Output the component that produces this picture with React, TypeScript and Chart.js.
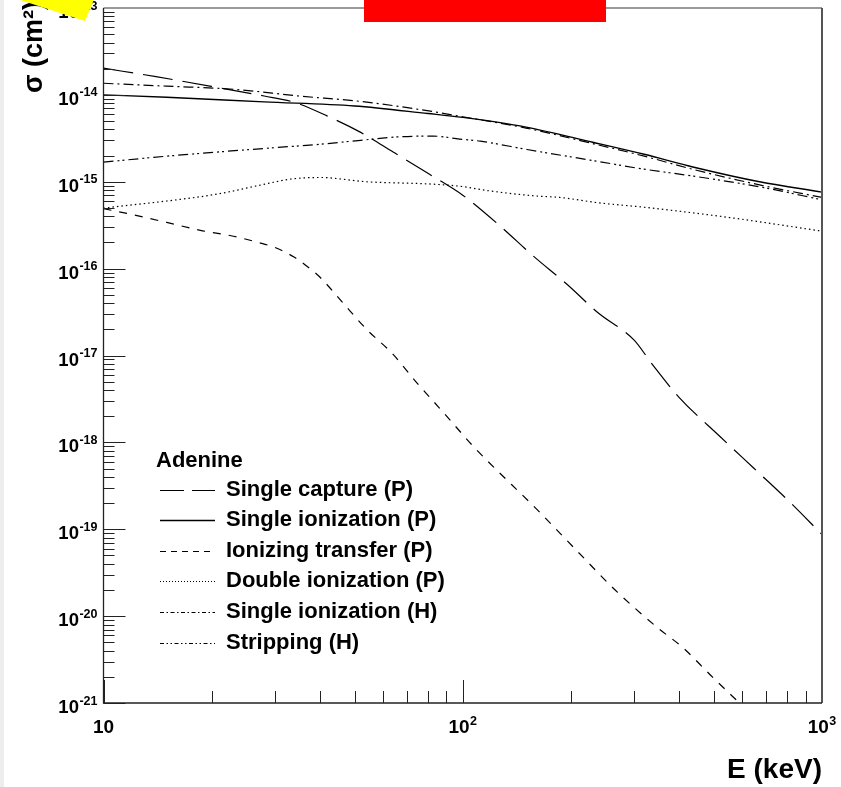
import React, { useEffect, useRef } from "react";
import { Chart, registerables } from "chart.js";

Chart.register(...registerables);

// ---------------- data ----------------
const energyCapture = [10, 14, 20, 28, 34, 42, 52, 64, 80, 100, 127, 157, 195, 238, 300, 337, 400, 520, 644, 800, 1000];
const sigmaCapture = [2.03e-14, 1.62e-14, 1.25e-14, 9.7e-15, 8.2e-15, 5.7e-15, 3.7e-15, 2.2e-15, 1.25e-15, 7.0e-16, 3.1e-16, 1.4e-16, 6.6e-17, 3.1e-17, 1.5e-17, 7.9e-18, 3.3e-18, 1.17e-18, 5.1e-19, 2.2e-19, 8.7e-20];

const energyIonP = [10, 15, 28, 50, 80, 100, 150, 230, 320, 440, 670, 1000];
const sigmaIonP = [1.0e-14, 9.4e-15, 8.3e-15, 7.45e-15, 6.1e-15, 5.5e-15, 4.25e-15, 2.85e-15, 2.07e-15, 1.47e-15, 1.0e-15, 7.6e-16];

const energyTransfer = [10, 12, 15, 18.6, 23, 27, 30, 34, 37, 40, 46, 54, 64, 74, 86, 100, 107, 164, 210, 269, 348, 411, 489, 600];
const sigmaTransfer = [4.9e-16, 4.2e-16, 3.4e-16, 2.76e-16, 2.36e-16, 2.0e-16, 1.75e-16, 1.35e-16, 1.05e-16, 8.0e-17, 4.2e-17, 2.0e-17, 1.03e-17, 5.0e-18, 2.5e-18, 1.23e-18, 9.0e-19, 1.56e-19, 5.4e-20, 1.9e-20, 7.4e-21, 4.3e-21, 2.1e-21, 9.3e-22];

const energyDouble = [10, 11, 15, 20.7, 28.5, 33, 40, 54, 82, 100, 115, 157, 186, 241, 318, 546, 1000];
const sigmaDouble = [4.95e-16, 5.2e-16, 6.0e-16, 7.2e-16, 9.5e-16, 1.07e-15, 1.12e-15, 1.0e-15, 9.4e-16, 8.8e-16, 8.0e-16, 6.9e-16, 6.6e-16, 5.7e-16, 5.1e-16, 3.9e-16, 2.7e-16];

const energyIonH = [10, 15, 23, 35, 52, 83, 100, 150, 230, 320, 440, 670, 1000];
const sigmaIonH = [1.36e-14, 1.26e-14, 1.16e-14, 9.7e-15, 8.4e-15, 6.4e-15, 5.6e-15, 4.15e-15, 2.75e-15, 1.97e-15, 1.38e-15, 9.2e-16, 6.6e-16];

const energyStrip = [10, 15, 28.5, 40, 52, 67, 83, 98, 112, 151, 231, 318, 439, 674, 1000];
const sigmaStrip = [1.68e-15, 1.97e-15, 2.43e-15, 2.7e-15, 3.0e-15, 3.3e-15, 3.35e-15, 3.1e-15, 2.93e-15, 2.35e-15, 1.75e-15, 1.4e-15, 1.16e-15, 8.7e-16, 6.2e-16];

const seriesLabels = [
  "Single capture (P)",
  "Single ionization (P)",
  "Ionizing transfer (P)",
  "Double ionization (P)",
  "Single ionization (H)",
  "Stripping (H)",
];
const legendTitle = "Adenine";

// tick labels: base "10" with the exponent as superscript ("" = no exponent)
const xTickValues = [10, 100, 1000];
const xTickExponents = ["", "2", "3"];
const yTickExponents = [-21, -20, -19, -18, -17, -16, -15, -14, -13];

const xTitle = "E (keV)";
const yTitle = "σ (cm²)";

// ---------------- styles ----------------
const FONT = "'Liberation Sans', 'DejaVu Sans', Arial, sans-serif";
const curveDashes: number[][] = [[30, 10], [], [8, 8], [1.5, 3], [10, 4, 2, 4], [10, 4, 2, 3, 2, 4]];
const legendDashes: number[][] = [[24, 8], [], [6, 5], [1, 2], [4, 2.5, 1.5, 2.5], [4, 2.5, 1.5, 2.5, 1.5, 2.5]];
const curveWidths = [1.2, 1.4, 1.2, 1.2, 1.2, 1.2];

const toPoints = (xs: number[], ys: number[]) => xs.map((x, i) => ({ x, y: ys[i] }));

function drawPower(ctx: any, exp: string, anchorX: number, baseY: number, align: "right" | "center", baseSize: number) {
  ctx.font = `bold ${baseSize}px ${FONT}`;
  const wb = ctx.measureText("10").width;
  ctx.font = `bold 12.5px ${FONT}`;
  const we = exp ? ctx.measureText(exp).width + 0.5 : 0;
  const total = wb + we;
  const left = align === "right" ? anchorX - total : anchorX - total / 2;
  ctx.textAlign = "left";
  ctx.textBaseline = "alphabetic";
  ctx.font = `bold ${baseSize}px ${FONT}`;
  ctx.fillText("10", left, baseY);
  if (exp) {
    ctx.font = `bold 12.5px ${FONT}`;
    ctx.fillText(exp, left + wb + 0.5, baseY - 8.5);
  }
}

const frameAndTicks = {
  id: "frameAndTicks",
  afterDatasetsDraw(chart: any) {
    const { ctx, chartArea: a, scales } = chart;
    const xs = scales.x;
    const ys = scales.y;
    ctx.save();
    ctx.setLineDash([]);
    ctx.strokeStyle = "#222";
    ctx.lineWidth = 1;
    // y ticks (inside, from left axis)
    for (let e = yTickExponents[0]; e < yTickExponents[yTickExponents.length - 1]; e++) {
      for (let m = 1; m <= 9; m++) {
        const v = m * Math.pow(10, e);
        const py = Math.round(ys.getPixelForValue(v)) + 0.5;
        const len = m === 1 ? 22 : 11;
        ctx.beginPath();
        ctx.moveTo(a.left, py);
        ctx.lineTo(a.left + len, py);
        ctx.stroke();
      }
    }
    // x ticks (inside, from bottom axis)
    for (let d = 1; d < 3; d++) {
      for (let m = 1; m <= 9; m++) {
        const v = m * Math.pow(10, d);
        const px = Math.round(xs.getPixelForValue(v)) + 0.5;
        const len = m === 1 ? 23 : 12;
        ctx.beginPath();
        ctx.moveTo(px, a.bottom);
        ctx.lineTo(px, a.bottom - len);
        ctx.stroke();
      }
    }
    // frame
    ctx.strokeStyle = "#777";
    ctx.lineWidth = 1.5;
    ctx.beginPath();
    ctx.moveTo(a.left, a.top);
    ctx.lineTo(a.right, a.top);
    ctx.stroke();
    ctx.strokeStyle = "#555";
    ctx.lineWidth = 2;
    ctx.beginPath();
    ctx.moveTo(a.right, a.top);
    ctx.lineTo(a.right, a.bottom);
    ctx.stroke();
    ctx.strokeStyle = "#222";
    ctx.lineWidth = 1.3;
    ctx.beginPath();
    ctx.moveTo(a.left, a.top);
    ctx.lineTo(a.left, a.bottom);
    ctx.lineTo(a.right, a.bottom);
    ctx.stroke();

    // tick labels
    ctx.fillStyle = "#000";
    yTickExponents.forEach((e) => {
      const py = ys.getPixelForValue(Math.pow(10, e));
      drawPower(ctx, String(e), a.left - 6, py + 10, "right", 18.5);
    });
    xTickValues.forEach((v, i) => {
      const px = xs.getPixelForValue(v);
      drawPower(ctx, xTickExponents[i], px, a.bottom + 30, "center", 19);
    });

    // legend
    ctx.fillStyle = "#000";
    ctx.textBaseline = "middle";
    ctx.textAlign = "left";
    ctx.font = `bold 22px ${FONT}`;
    ctx.fillText(legendTitle, 156, 461);
    const rowY = [490, 520, 551, 581, 612, 643];
    seriesLabels.forEach((lab, i) => {
      const yy = rowY[i] + 0.5;
      ctx.save();
      ctx.strokeStyle = "#000";
      ctx.lineWidth = i === 1 ? 1.4 : 1.1;
      ctx.setLineDash(legendDashes[i]);
      ctx.beginPath();
      ctx.moveTo(160, yy);
      ctx.lineTo(215, yy);
      ctx.stroke();
      ctx.restore();
      ctx.fillText(lab, 226, rowY[i]);
    });

    // y title (rotated)
    ctx.save();
    ctx.font = `bold 27px ${FONT}`;
    ctx.translate(42, 93);
    ctx.rotate(-Math.PI / 2);
    ctx.textAlign = "left";
    ctx.textBaseline = "alphabetic";
    ctx.fillText(yTitle, 0, 0);
    ctx.restore();
    ctx.restore();
  },
};

export default function App() {
  const ref = useRef<HTMLCanvasElement>(null);
  useEffect(() => {
    if (!ref.current) return;
    const pairs: [number[], number[]][] = [
      [energyCapture, sigmaCapture],
      [energyIonP, sigmaIonP],
      [energyTransfer, sigmaTransfer],
      [energyDouble, sigmaDouble],
      [energyIonH, sigmaIonH],
      [energyStrip, sigmaStrip],
    ];
    const chart = new Chart(ref.current, {
      type: "line",
      data: {
        datasets: pairs.map(([xs, ys], i) => ({
          label: seriesLabels[i],
          data: toPoints(xs, ys),
          borderColor: "#000",
          backgroundColor: "#000",
          borderWidth: curveWidths[i],
          borderDash: curveDashes[i],
          pointRadius: 0,
          fill: false,
          cubicInterpolationMode: "monotone",
        })),
      },
      options: {
        animation: false,
        responsive: false,
        devicePixelRatio: 1,
        layout: { padding: { left: 0, top: 8, right: 19, bottom: 0 } },
        plugins: { legend: { display: false }, tooltip: { enabled: false } },
        scales: {
          x: {
            type: "logarithmic",
            min: 10,
            max: 1000,
            grid: { display: false, drawTicks: false },
            border: { display: false },
            afterBuildTicks: (s: any) => {
              s.ticks = xTickValues.map((v) => ({ value: v }));
            },
            afterFit: (s: any) => {
              s.height = 84;
              s.paddingLeft = 0;
              s.paddingRight = 0;
            },
            ticks: { display: false },
            title: {
              display: true,
              text: xTitle,
              align: "end",
              color: "#000",
              padding: 0,
              font: { family: FONT, weight: "bold", size: 28 },
            },
          },
          y: {
            type: "logarithmic",
            min: 1e-21,
            max: 1e-13,
            grid: { display: false, drawTicks: false },
            border: { display: false },
            afterBuildTicks: (s: any) => {
              s.ticks = yTickExponents.map((e) => ({ value: Math.pow(10, e) }));
            },
            afterFit: (s: any) => {
              s.width = 103.5;
              s.paddingTop = 0;
              s.paddingBottom = 0;
            },
            ticks: { display: false },
          },
        },
      },
      plugins: [frameAndTicks],
    } as any);
    return () => chart.destroy();
  }, []);

  return (
    <div style={{ position: "absolute", left: 0, top: 0, width: 841, height: 787, background: "#fff", overflow: "hidden" }}>
      <div style={{ position: "absolute", left: 0, top: 0, width: 4, height: 787, background: "#ededed" }} />
      <canvas ref={ref} width={841} height={787} style={{ position: "absolute", left: 0, top: 0 }} />
      <div
        style={{
          position: "absolute",
          left: 0,
          top: 0,
          width: 100,
          height: 25,
          background: "#ffff00",
          clipPath: "polygon(20px 0, 93px 0, 93px 2px, 85px 21px)",
        }}
      />
      <div style={{ position: "absolute", left: 364, top: 0, width: 242, height: 22, background: "#ff0000" }} />
    </div>
  );
}
